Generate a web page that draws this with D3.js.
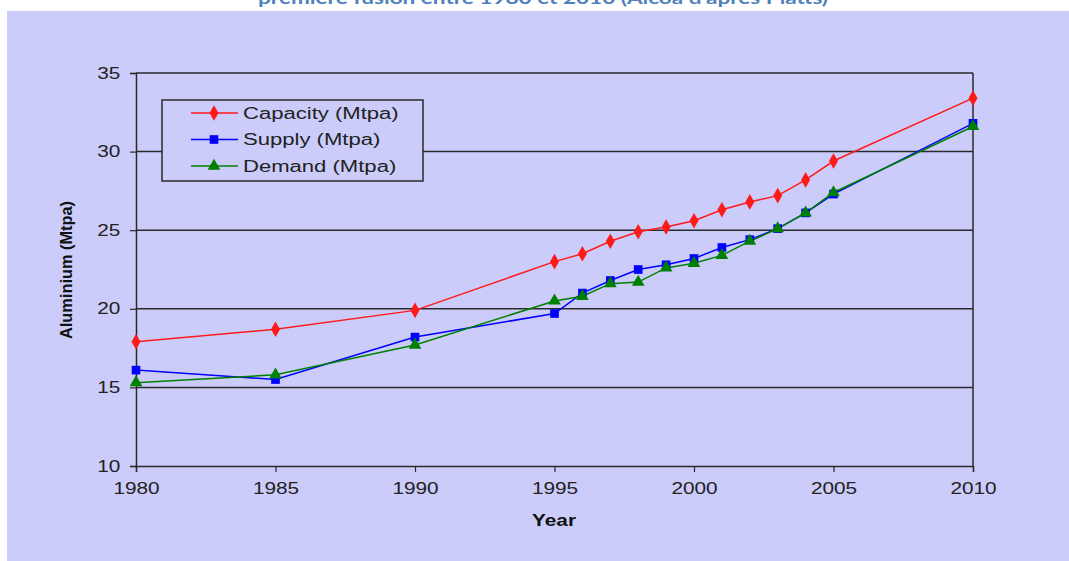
<!doctype html>
<html lang="fr">
<head>
  <meta charset="UTF-8">
  <script src="https://cdn.jsdelivr.net/npm/d3@7"></script>
  <title>Aluminium</title>
  <style>
    html, body { margin: 0; padding: 0; background: #fff; }
    svg text { font-family: Arial, "Liberation Sans", sans-serif; }
  </style>
</head>
<body>
  <div class="chart"></div>
  <script>
    const years = [1980, 1985, 1990, 1995, 1996, 1997, 1998, 1999, 2000, 2001, 2002, 2003, 2004, 2005, 2010];
    const capacity = [17.9, 18.7, 19.9, 23.0, 23.5, 24.3, 24.9, 25.2, 25.6, 26.3, 26.8, 27.2, 28.2, 29.4, 33.4];
    const supply = [16.1, 15.5, 18.2, 19.7, 21.0, 21.8, 22.5, 22.8, 23.2, 23.9, 24.4, 25.1, 26.1, 27.3, 31.8];
    const demand = [15.3, 15.8, 17.7, 20.5, 20.8, 21.6, 21.7, 22.6, 22.9, 23.4, 24.3, 25.1, 26.1, 27.4, 31.6];
    const seriesNames = ['Capacity (Mtpa)', 'Supply (Mtpa)', 'Demand (Mtpa)'];
    const xTicks = [1980, 1985, 1990, 1995, 2000, 2005, 2010];
    const yTicks = [10, 15, 20, 25, 30, 35];
    const titleText = "première fusion entre 1980 et 2010 (Alcoa d'après Platts)";

    const W = 1069, H = 561;
    const margin = { top: 73, right: 96, bottom: 95, left: 136 };
    const width = W - margin.left - margin.right;
    const height = H - margin.top - margin.bottom;
    const stretch = 'scale(1.3,1)';   // the source text is drawn wide

    const root = d3.select('.chart').append('svg')
      .attr('width', W).attr('height', H);

    // cut-off title above the panel
    root.append('text')
      .attr('x', 543).attr('y', 4)
      .attr('text-anchor', 'middle')
      .attr('textLength', 570).attr('lengthAdjust', 'spacingAndGlyphs')
      .style('font-family', 'Lato, "Open Sans", sans-serif')
      .style('font-weight', 'bold').style('font-size', '17px')
      .attr('fill', '#4f81bd')
      .text(titleText);

    // lavender panel
    root.append('rect').attr('x', 7).attr('y', 11)
      .attr('width', W - 7).attr('height', H - 11)
      .attr('fill', '#ccccfa');

    const svg = root.append('g').attr('transform', `translate(${margin.left},${margin.top})`);

    const x = d3.scaleLinear().domain([1980, 2010]).range([0, width]);
    const y = d3.scaleLinear().domain([10, 35]).range([height, 0]);

    // grid lines
    svg.append('g').selectAll('line').data(yTicks.filter(d => d > 10)).join('line')
      .attr('x1', 0).attr('x2', width)
      .attr('y1', d => y(d)).attr('y2', d => y(d))
      .attr('stroke', '#2a2a2a').attr('stroke-width', 1.5);
    svg.append('line').attr('x1', width).attr('x2', width).attr('y1', 0).attr('y2', height)
      .attr('stroke', '#2a2a2a').attr('stroke-width', 1.5);

    const yAxis = svg.append('g')
      .call(d3.axisLeft(y).tickValues(yTicks).tickSize(6).tickPadding(6));
    const xAxis = svg.append('g').attr('transform', `translate(0,${height})`)
      .call(d3.axisBottom(x).tickValues(xTicks).tickFormat(d3.format('d')).tickSize(6).tickPadding(11));
    [xAxis, yAxis].forEach(a => {
      a.select('.domain').attr('stroke', '#2a2a2a').attr('stroke-width', 1.5);
      a.selectAll('.tick line').attr('stroke', '#2a2a2a').attr('stroke-width', 1.2);
      a.selectAll('.tick text').attr('fill', '#222').style('font-size', '16px')
        .attr('transform', stretch);
    });

    // axis titles
    root.append('text')
      .attr('transform', 'translate(72,270) rotate(-90)')
      .attr('text-anchor', 'middle')
      .attr('textLength', 138).attr('lengthAdjust', 'spacingAndGlyphs')
      .style('font-weight', 'bold').style('font-size', '16px').attr('fill', '#111')
      .text('Aluminium (Mtpa)');
    root.append('text')
      .attr('transform', `translate(554,526) ${stretch}`)
      .attr('text-anchor', 'middle')
      .style('font-weight', 'bold').style('font-size', '16px').attr('fill', '#111')
      .text('Year');

    const series = [
      { name: seriesNames[0], values: capacity, color: '#ff1a1a', symbol: d3.symbolDiamond, size: 70 },
      { name: seriesNames[1], values: supply, color: '#0000ff', symbol: d3.symbolSquare, size: 75 },
      { name: seriesNames[2], values: demand, color: '#008000', symbol: d3.symbolTriangle, size: 70 }
    ];

    const line = d3.line().x((d, i) => x(years[i])).y(d => y(d));

    series.forEach(s => {
      svg.append('path').attr('d', line(s.values))
        .attr('fill', 'none').attr('stroke', s.color).attr('stroke-width', 1.5);
    });
    series.forEach(s => {
      svg.append('g').selectAll('path').data(s.values).join('path')
        .attr('d', d3.symbol().type(s.symbol).size(s.size))
        .attr('transform', (d, i) => `translate(${x(years[i])},${y(d)})`)
        .attr('fill', s.color);
    });

    // legend
    const lg = root.append('g').attr('transform', 'translate(162,100)');
    lg.append('rect').attr('width', 261).attr('height', 81)
      .attr('fill', '#ccccfa').attr('stroke', '#2a2a2a').attr('stroke-width', 1.5);
    series.forEach((s, i) => {
      const row = lg.append('g').attr('transform', `translate(0,${13 + i * 26.5})`);
      row.append('line').attr('x1', 29).attr('x2', 76).attr('y1', 0).attr('y2', 0)
        .attr('stroke', s.color).attr('stroke-width', 1.5);
      row.append('path').attr('d', d3.symbol().type(s.symbol).size(s.size)())
        .attr('transform', 'translate(52,0)').attr('fill', s.color);
      row.append('text').attr('transform', `translate(81,5.5) scale(1.38,1)`)
        .style('font-size', '16px').attr('fill', '#222')
        .text(s.name);
    });
  </script>
</body>
</html>
